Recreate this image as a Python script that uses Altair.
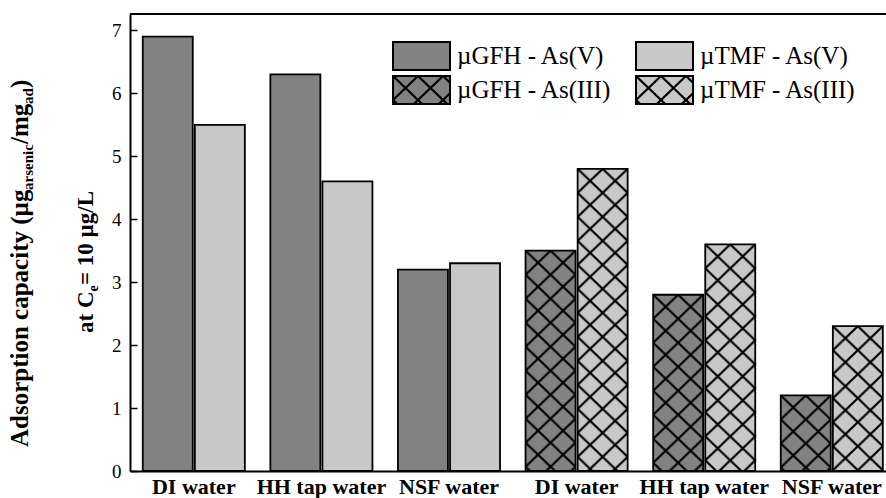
import urllib.parse
import altair as alt
import pandas as pd

# ---------------- data ----------------
waters = ["DI water", "HH tap water", "NSF water"]
species = ["As(V)", "As(III)"]
materials = ["µGFH", "µTMF"]
gfh_as5 = [6.9, 6.3, 3.2]
tmf_as5 = [5.5, 4.6, 3.3]
gfh_as3 = [3.5, 2.8, 1.2]
tmf_as3 = [4.8, 3.6, 2.3]
legend_labels = ["µGFH - As(V)", "µTMF - As(V)", "µGFH - As(III)", "µTMF - As(III)"]
y_ticks = [0, 1, 2, 3, 4, 5, 6, 7]

rows = []
for sp, gvals, tvals in [("As(V)", gfh_as5, tmf_as5), ("As(III)", gfh_as3, tmf_as3)]:
    for w, g, t in zip(waters, gvals, tvals):
        key = f"{w} | {sp}"
        rows.append({"group": key, "species": sp, "material": "µGFH", "value": g})
        rows.append({"group": key, "species": sp, "material": "µTMF", "value": t})
df = pd.DataFrame(rows)
order = [f"{w} | {sp}" for sp in species for w in waters]

# ---------------- styles ----------------
FONT = "Liberation Serif"
DARK = "#828282"
LIGHT = "#c8c8c8"
W, H = 756, 457

hatch_svg = (
    "<svg xmlns='http://www.w3.org/2000/svg' width='100%' height='100%'>"
    "<defs><pattern id='h' width='25' height='24' patternUnits='userSpaceOnUse'>"
    "<path d='M-2,-1.92L27,25.92M27,-1.92L-2,25.92' stroke='black' stroke-width='2.2' fill='none'/>"
    "</pattern></defs><rect width='100%' height='100%' fill='url(#h)'/></svg>"
)
hatch_url = "data:image/svg+xml;charset=utf-8," + urllib.parse.quote(hatch_svg)

x_enc = alt.X(
    "group:N",
    sort=order,
    scale=alt.Scale(range=[0, 765.6], paddingInner=0.2, paddingOuter=0.1),
    axis=alt.Axis(
        title=None,
        labelExpr="split(datum.label, ' | ')[0]",
        ticks=False,
        domainColor="black",
        domainWidth=2,
        labelFont=FONT,
        labelFontSize=22,
        labelFontWeight="bold",
        labelColor="black",
        labelPadding=5,
        labelAngle=0,
    ),
)
xo_enc = alt.XOffset("material:N", sort=materials, scale=alt.Scale(paddingInner=0.04))
y_enc = alt.Y(
    "value:Q",
    scale=alt.Scale(domain=[0, 7.26], nice=False),
    axis=alt.Axis(
        title=None,
        values=y_ticks,
        grid=False,
        tickSize={"expr": "-7"},
        tickColor="black",
        tickWidth=1.5,
        domainColor="black",
        domainWidth=2,
        labelFont=FONT,
        labelFontSize=19,
        labelColor="black",
        labelPadding=16,
    ),
)

base = alt.Chart(df).encode(x=x_enc, xOffset=xo_enc, y=y_enc)
bars = base.mark_bar().encode(
    color=alt.Color("material:N", scale=alt.Scale(domain=materials, range=[DARK, LIGHT]), legend=None)
)
hatch = (
    base.transform_filter(alt.datum.species == "As(III)")
    .mark_image(aspect=False)
    .encode(url=alt.value(hatch_url))
)
outline = base.mark_bar(fillOpacity=0, stroke="black", strokeWidth=1.8)

one = pd.DataFrame({"k": [0]})
top_line = alt.Chart(one).mark_rule(color="black", strokeWidth=2).encode(
    x=alt.value(0), x2=alt.value(W), y=alt.value(0)
)

# ---------------- legend (manual, to carry the hatch) ----------------
legend_layers = []
box_x = [263, 506]
box_y = [28, 62]
for i, lab in enumerate(legend_labels):
    col, row = i % 2, i // 2
    x0, y0 = box_x[col], box_y[row]
    fillc = DARK if col == 0 else LIGHT
    legend_layers.append(
        alt.Chart(one).mark_rect(fill=fillc).encode(
            x=alt.value(x0), x2=alt.value(x0 + 57), y=alt.value(y0), y2=alt.value(y0 + 28)
        )
    )
    if row == 1:
        legend_layers.append(
            alt.Chart(one).mark_image(aspect=False).encode(
                x=alt.value(x0), x2=alt.value(x0 + 57), y=alt.value(y0), y2=alt.value(y0 + 28),
                url=alt.value(hatch_url),
            )
        )
    legend_layers.append(
        alt.Chart(one).mark_rect(fillOpacity=0, stroke="black", strokeWidth=2).encode(
            x=alt.value(x0), x2=alt.value(x0 + 57), y=alt.value(y0), y2=alt.value(y0 + 28)
        )
    )
    legend_layers.append(
        alt.Chart(one).mark_text(font=FONT, fontSize=25, align="left", baseline="middle", color="black").encode(
            x=alt.value(x0 + 64), y=alt.value(y0 + 14), text=alt.value(lab)
        )
    )

# ---------------- y title with subscripts ----------------
# (text, font size, x baseline, y start)
title_pieces = [
    ("Adsorption capacity (µg", 25, -102, 433),
    ("arsenic", 15, -97, 176),
    ("/mg", 25, -102, 130),
    ("ad", 15, -97, 90),
    (")", 25, -102, 74),
    ("at C", 23, -37, 319),
    ("e", 14, -32, 277.5),
    (" = 10 µg/L", 23, -37, 271),
]
title_layers = [
    alt.Chart(one).mark_text(
        font=FONT, fontSize=s, fontWeight="bold", angle=270, align="left", baseline="alphabetic", color="black"
    ).encode(x=alt.value(px), y=alt.value(py), text=alt.value(t))
    for t, s, px, py in title_pieces
]

chart = (
    alt.layer(bars, hatch, outline, top_line, *legend_layers, *title_layers)
    .properties(
        width=W,
        height=H,
        autosize=alt.AutoSizeParams(type="none"),
        padding={"left": 130, "top": 14, "right": 0, "bottom": 27},
        background="white",
    )
    .configure_view(stroke=None)
)

chart.save("out.html", embed_options={"renderer": "svg", "actions": False})
